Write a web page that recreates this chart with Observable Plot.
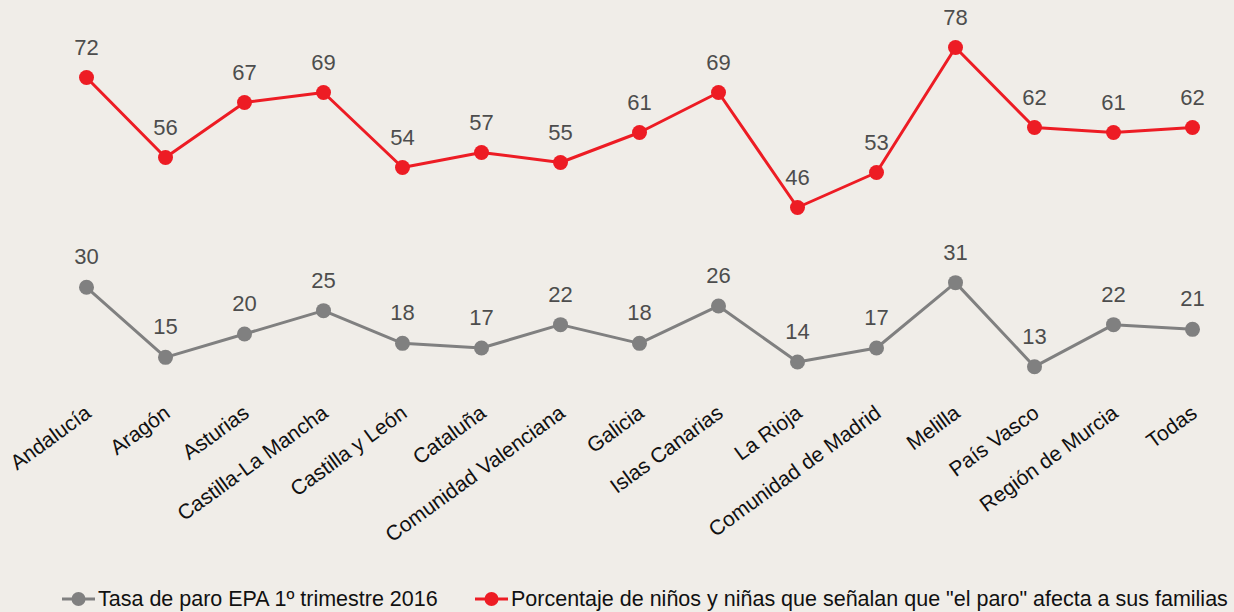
<!DOCTYPE html>
<html><head><meta charset="utf-8">
<script src="https://cdn.jsdelivr.net/npm/d3@7"></script>
<script src="https://cdn.jsdelivr.net/npm/@observablehq/plot@0.6"></script>
<style>
html,body{margin:0;padding:0;background:#f0ede8;}
#chart{position:relative;width:1234px;height:612px;font-family:"Liberation Sans",Arial,Helvetica,sans-serif;overflow:hidden;}
#chart svg{display:block;}
.legend{position:absolute;top:586px;left:0;width:1234px;height:26px;font-size:21.5px;color:#111;}
.item{position:absolute;top:0;height:26px;display:flex;align-items:center;white-space:nowrap;}
.item svg{margin-right:3px;}
</style></head><body><div id="chart"></div>
<script>
const regions = ["Andalucía","Aragón","Asturias","Castilla-La Mancha","Castilla y León","Cataluña","Comunidad Valenciana","Galicia","Islas Canarias","La Rioja","Comunidad de Madrid","Melilla","País Vasco","Región de Murcia","Todas"];
const paro = [30,15,20,25,18,17,22,18,26,14,17,31,13,22,21];
const ninos = [72,56,67,69,54,57,55,61,69,46,53,78,62,61,62];
const seriesNames = ["Tasa de paro EPA 1º trimestre 2016", "Porcentaje de niños y niñas que señalan que \"el paro\" afecta a sus familias"];
const colors = ["#808080", "#ed1c24"];

// secondary axis for the unemployment series, expressed in the main y scale
const paroAxis = d3.scaleLinear([0, 40], [2.02, 39.38]);

const rows = regions.flatMap((r, i) => [
  {region: r, serie: seriesNames[0], v: paro[i], y: paroAxis(paro[i])},
  {region: r, serie: seriesNames[1], v: ninos[i], y: ninos[i]}
]);

const plot = Plot.plot({
  width: 1234, height: 570,
  marginTop: 0, marginRight: 0, marginLeft: 0, marginBottom: 160,
  style: {background: "transparent", fontFamily: "'Liberation Sans', Arial, Helvetica, sans-serif", overflow: "visible"},
  x: {type: "point", domain: regions, range: [86, 1192], padding: 0, axis: null},
  y: {domain: [0, 80], range: [437, 37], axis: null},
  color: {domain: seriesNames, range: colors},
  marks: [
    Plot.line(rows, {x: "region", y: "y", z: "serie", stroke: "serie", strokeWidth: 3}),
    Plot.dot(rows, {x: "region", y: "y", fill: "serie", r: 7.5}),
    Plot.text(rows, {x: "region", y: "y", text: "v", dy: -30, fontSize: 22, fill: "#4d4d4d", lineAnchor: "middle"}),
    Plot.text(regions, {x: d => d, frameAnchor: "bottom", text: d => d, rotate: -36, textAnchor: "end", lineAnchor: "middle", dx: 2, fontSize: 21, fill: "#111"})
  ]
});
const chart = document.getElementById("chart");
chart.appendChild(plot);

const legend = document.createElement("div");
legend.className = "legend";
const lefts = [62, 475];
seriesNames.forEach((name, i) => {
  const item = document.createElement("div");
  item.className = "item";
  item.style.left = lefts[i] + "px";
  item.innerHTML = `<svg width="33" height="20"><line x1="0" x2="33" y1="10" y2="10" stroke="${colors[i]}" stroke-width="3"/><circle cx="16.5" cy="10" r="7" fill="${colors[i]}"/></svg><span>${name.replace(/"/g, "&quot;")}</span>`;
  legend.appendChild(item);
});
chart.appendChild(legend);
</script></body></html>
